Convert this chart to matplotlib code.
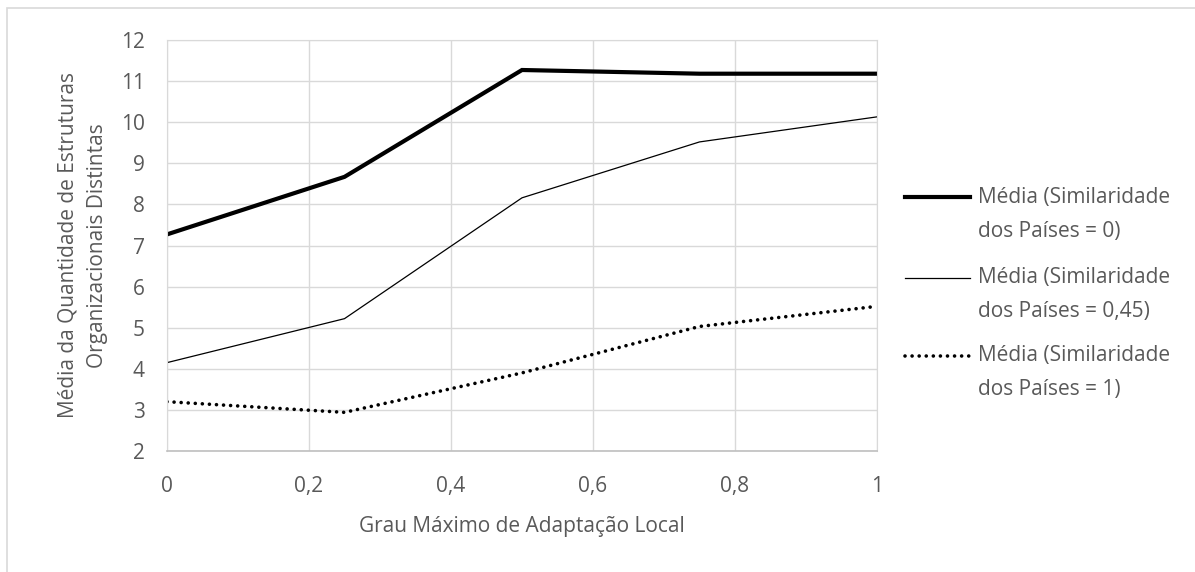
import numpy as np
import matplotlib
matplotlib.use('Agg')
import matplotlib.pyplot as plt
from matplotlib.patches import Rectangle
from matplotlib.lines import Line2D
from matplotlib.ticker import FuncFormatter

plt.rcParams['font.family'] = ['Open Sans', 'DejaVu Sans']

# dados
grau = [0, 0.25, 0.5, 0.75, 1]
media_sim0 = [7.27, 8.67, 11.27, 11.18, 11.18]
media_sim045 = [4.15, 5.22, 8.16, 9.52, 10.13]
media_sim1 = [3.2, 2.94, 3.9, 5.03, 5.52]

rotulos = ['Média (Similaridade\ndos Países = 0)',
           'Média (Similaridade\ndos Países = 0,45)',
           'Média (Similaridade\ndos Países = 1)']

cinza_txt = '#595959'
cinza_grade = '#d9d9d9'
fs = 15

# estilo de cada serie (espessura, tipo de linha)
estilos = [dict(lw=3.0, ls='-'),
           dict(lw=0.9, ls='-'),
           dict(lw=2.6, ls=(0, (0.01, 1.95)))]

W, H = 1195, 572
fig = plt.figure(figsize=(W / 100, H / 100), dpi=100)
ax = fig.add_axes([167 / W, 1 - 451 / H, (877 - 167) / W, (451 - 40) / H])

# moldura externa do grafico
fig.add_artist(Rectangle((7 / W, -0.1), 1.2, 1 - 8 / H + 0.1, transform=fig.transFigure,
                         fill=False, edgecolor=cinza_grade, lw=1.2))

for serie, est in zip([media_sim0, media_sim045, media_sim1], estilos):
    ax.plot(grau, serie, color='black', lw=est['lw'], linestyle=est['ls'],
            dash_capstyle='round', solid_joinstyle='miter')

ax.set_xlim(0, 1)
ax.set_ylim(2, 12)
ax.set_xticks(np.arange(0, 1.01, 0.2))
ax.set_yticks(range(2, 13))
fmt = FuncFormatter(lambda v, p: ('%g' % round(v, 2)).replace('.', ','))
ax.xaxis.set_major_formatter(fmt)
ax.grid(True, color=cinza_grade, lw=1.0)
ax.set_axisbelow(True)
for s in ['top', 'right', 'left']:
    ax.spines[s].set_color(cinza_grade)
ax.spines['bottom'].set_color('#bfbfbf')
ax.spines['bottom'].set_linewidth(1.2)
ax.tick_params(axis='both', length=0, labelsize=fs, labelcolor=cinza_txt)
ax.tick_params(axis='y', pad=16)
ax.tick_params(axis='x', pad=18)

ax.set_xlabel('Grau Máximo de Adaptação Local', fontsize=fs, color=cinza_txt)
ax.xaxis.set_label_coords(0.5, -0.157)
ax.set_ylabel('Média da Quantidade de Estruturas\nOrganizacionais Distintas', fontsize=fs,
              color=cinza_txt, linespacing=1.55)
ax.yaxis.set_label_coords(-0.083, 0.5)

# legenda feita a mao (linha alinhada com a primeira linha do texto, como no Excel)
y_leg = [197, 278, 356]
for est, rot, yy in zip(estilos, rotulos, y_leg):
    h = Line2D([905 / W, 970 / W], [1 - yy / H] * 2, transform=fig.transFigure,
               color='black', lw=est['lw'], linestyle=est['ls'], dash_capstyle='round')
    fig.add_artist(h)
    for k, parte in enumerate(rot.split('\n')):
        fig.text(978 / W, 1 - (yy + 34 * k) / H, parte, fontsize=fs, color=cinza_txt,
                 va='center', ha='left')

fig.savefig('out.png', dpi=100)
